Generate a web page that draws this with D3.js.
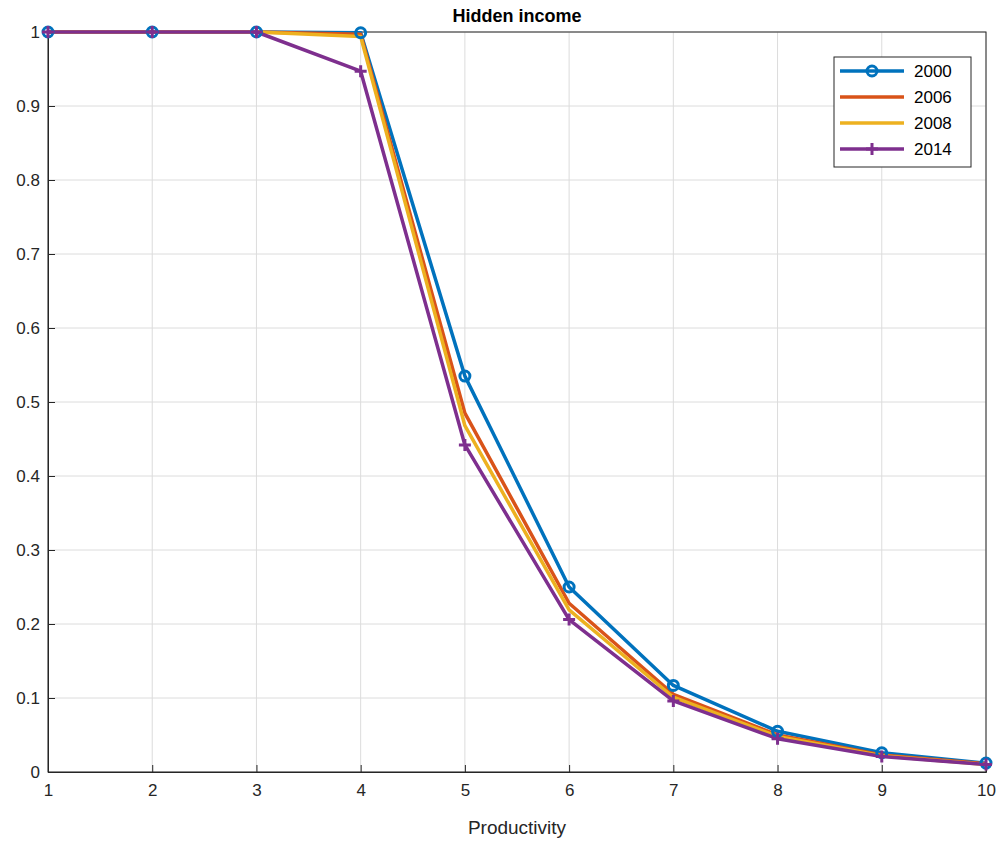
<!DOCTYPE html>
<html lang="en">
  <head>
    <meta charset="UTF-8" />
    <title>Hidden income</title>
    <style>
      body { margin: 0; background: #fff; }
      text { font-family: "Liberation Sans", Arial, sans-serif; }
    </style>
  </head>
  <body>
    <svg width="998" height="841"></svg>
    <script src="https://d3js.org/d3.v7.min.js"></script>
    <script>
      var productivity = [1, 2, 3, 4, 5, 6, 7, 8, 9, 10];
      var years = ["2000", "2006", "2008", "2014"];
      var s2000 = [1, 1, 1, 0.999, 0.535, 0.25, 0.117, 0.055, 0.026, 0.012];
      var s2006 = [1, 1, 1, 0.997, 0.485, 0.228, 0.105, 0.05, 0.023, 0.011];
      var s2008 = [1, 1, 1, 0.994, 0.468, 0.219, 0.101, 0.048, 0.022, 0.01];
      var s2014 = [1, 1, 1, 0.947, 0.442, 0.206, 0.096, 0.045, 0.021, 0.01];
      var yTicks = [0, 0.1, 0.2, 0.3, 0.4, 0.5, 0.6, 0.7, 0.8, 0.9, 1];

      var series = [
        { name: years[0], values: s2000, color: "#0072bd", marker: "o" },
        { name: years[1], values: s2006, color: "#d95319", marker: "" },
        { name: years[2], values: s2008, color: "#edb120", marker: "" },
        { name: years[3], values: s2014, color: "#7e2f8e", marker: "+" },
      ];

      var svg = d3.select("svg");
      var margin = { top: 32, right: 12, bottom: 69, left: 48 };
      var width = 998 - margin.left - margin.right;
      var height = 841 - margin.top - margin.bottom;
      var g = svg.append("g")
        .attr("transform", "translate(" + margin.left + "," + margin.top + ")");

      var x = d3.scaleLinear().domain([1, 10]).range([0, width]);
      var y = d3.scaleLinear().domain([0, 1]).range([height, 0]);

      // grid
      g.append("g").selectAll("line").data(productivity).join("line")
        .attr("x1", d => x(d)).attr("x2", d => x(d))
        .attr("y1", 0).attr("y2", height)
        .attr("stroke", "#dcdcdc").attr("stroke-width", 1);
      g.append("g").selectAll("line").data(yTicks).join("line")
        .attr("x1", 0).attr("x2", width)
        .attr("y1", d => y(d)).attr("y2", d => y(d))
        .attr("stroke", "#dcdcdc").attr("stroke-width", 1);

      var xAxis = g.append("g")
        .attr("transform", "translate(0," + height + ")")
        .call(d3.axisBottom(x).tickValues(productivity).tickSize(-7).tickPadding(12).tickFormat(d3.format("d")));
      var yAxis = g.append("g")
        .call(d3.axisLeft(y).tickValues(yTicks).tickSize(-7).tickPadding(8).tickFormat(d => d === 0 ? "0" : d === 1 ? "1" : d3.format(".1f")(d)));
      [xAxis, yAxis].forEach(function (a) {
        a.selectAll("text").attr("font-size", 17).attr("fill", "#262626")
          .style("font-family", "Liberation Sans, Arial, sans-serif");
        a.selectAll("line,path").attr("stroke", "#262626");
      });
      // box top/right
      g.append("rect").attr("width", width).attr("height", height)
        .attr("fill", "none").attr("stroke", "#262626");

      var line = d3.line().x((d, i) => x(productivity[i])).y(d => y(d));

      series.forEach(function (s) {
        g.append("path").datum(s.values)
          .attr("fill", "none").attr("stroke", s.color)
          .attr("stroke-width", 3.5).attr("stroke-linejoin", "round")
          .attr("d", line);
      });
      function drawMarker(sel, m, color, cx, cy) {
        if (m === "o") {
          sel.append("circle").attr("cx", cx).attr("cy", cy).attr("r", 5)
            .attr("fill", "none").attr("stroke", color).attr("stroke-width", 3);
        } else if (m === "+") {
          sel.append("path")
            .attr("d", "M" + (cx - 6) + "," + cy + "h12M" + cx + "," + (cy - 6) + "v12")
            .attr("stroke", color).attr("stroke-width", 3);
        }
      }
      series.forEach(function (s) {
        s.values.forEach(function (v, i) {
          drawMarker(g, s.marker, s.color, x(productivity[i]), y(v));
        });
      });

      // title and label
      svg.append("text").attr("x", margin.left + width / 2).attr("y", 22)
        .attr("text-anchor", "middle").attr("font-size", 18).attr("font-weight", "bold")
        .attr("fill", "#000").text("Hidden income");
      svg.append("text").attr("x", margin.left + width / 2).attr("y", 834)
        .attr("text-anchor", "middle").attr("font-size", 19).attr("fill", "#262626")
        .text("Productivity");

      // legend
      var lg = svg.append("g").attr("transform", "translate(834,57)");
      lg.append("rect").attr("width", 137).attr("height", 110)
        .attr("fill", "#fff").attr("stroke", "#262626");
      series.forEach(function (s, i) {
        var ly = 14 + i * 26;
        lg.append("line").attr("x1", 6).attr("x2", 70).attr("y1", ly).attr("y2", ly)
          .attr("stroke", s.color).attr("stroke-width", 3.5);
        drawMarker(lg, s.marker, s.color, 38, ly);
        lg.append("text").attr("x", 80).attr("y", ly + 6).attr("font-size", 17)
          .attr("fill", "#000").text(s.name);
      });
    </script>
  </body>
</html>
